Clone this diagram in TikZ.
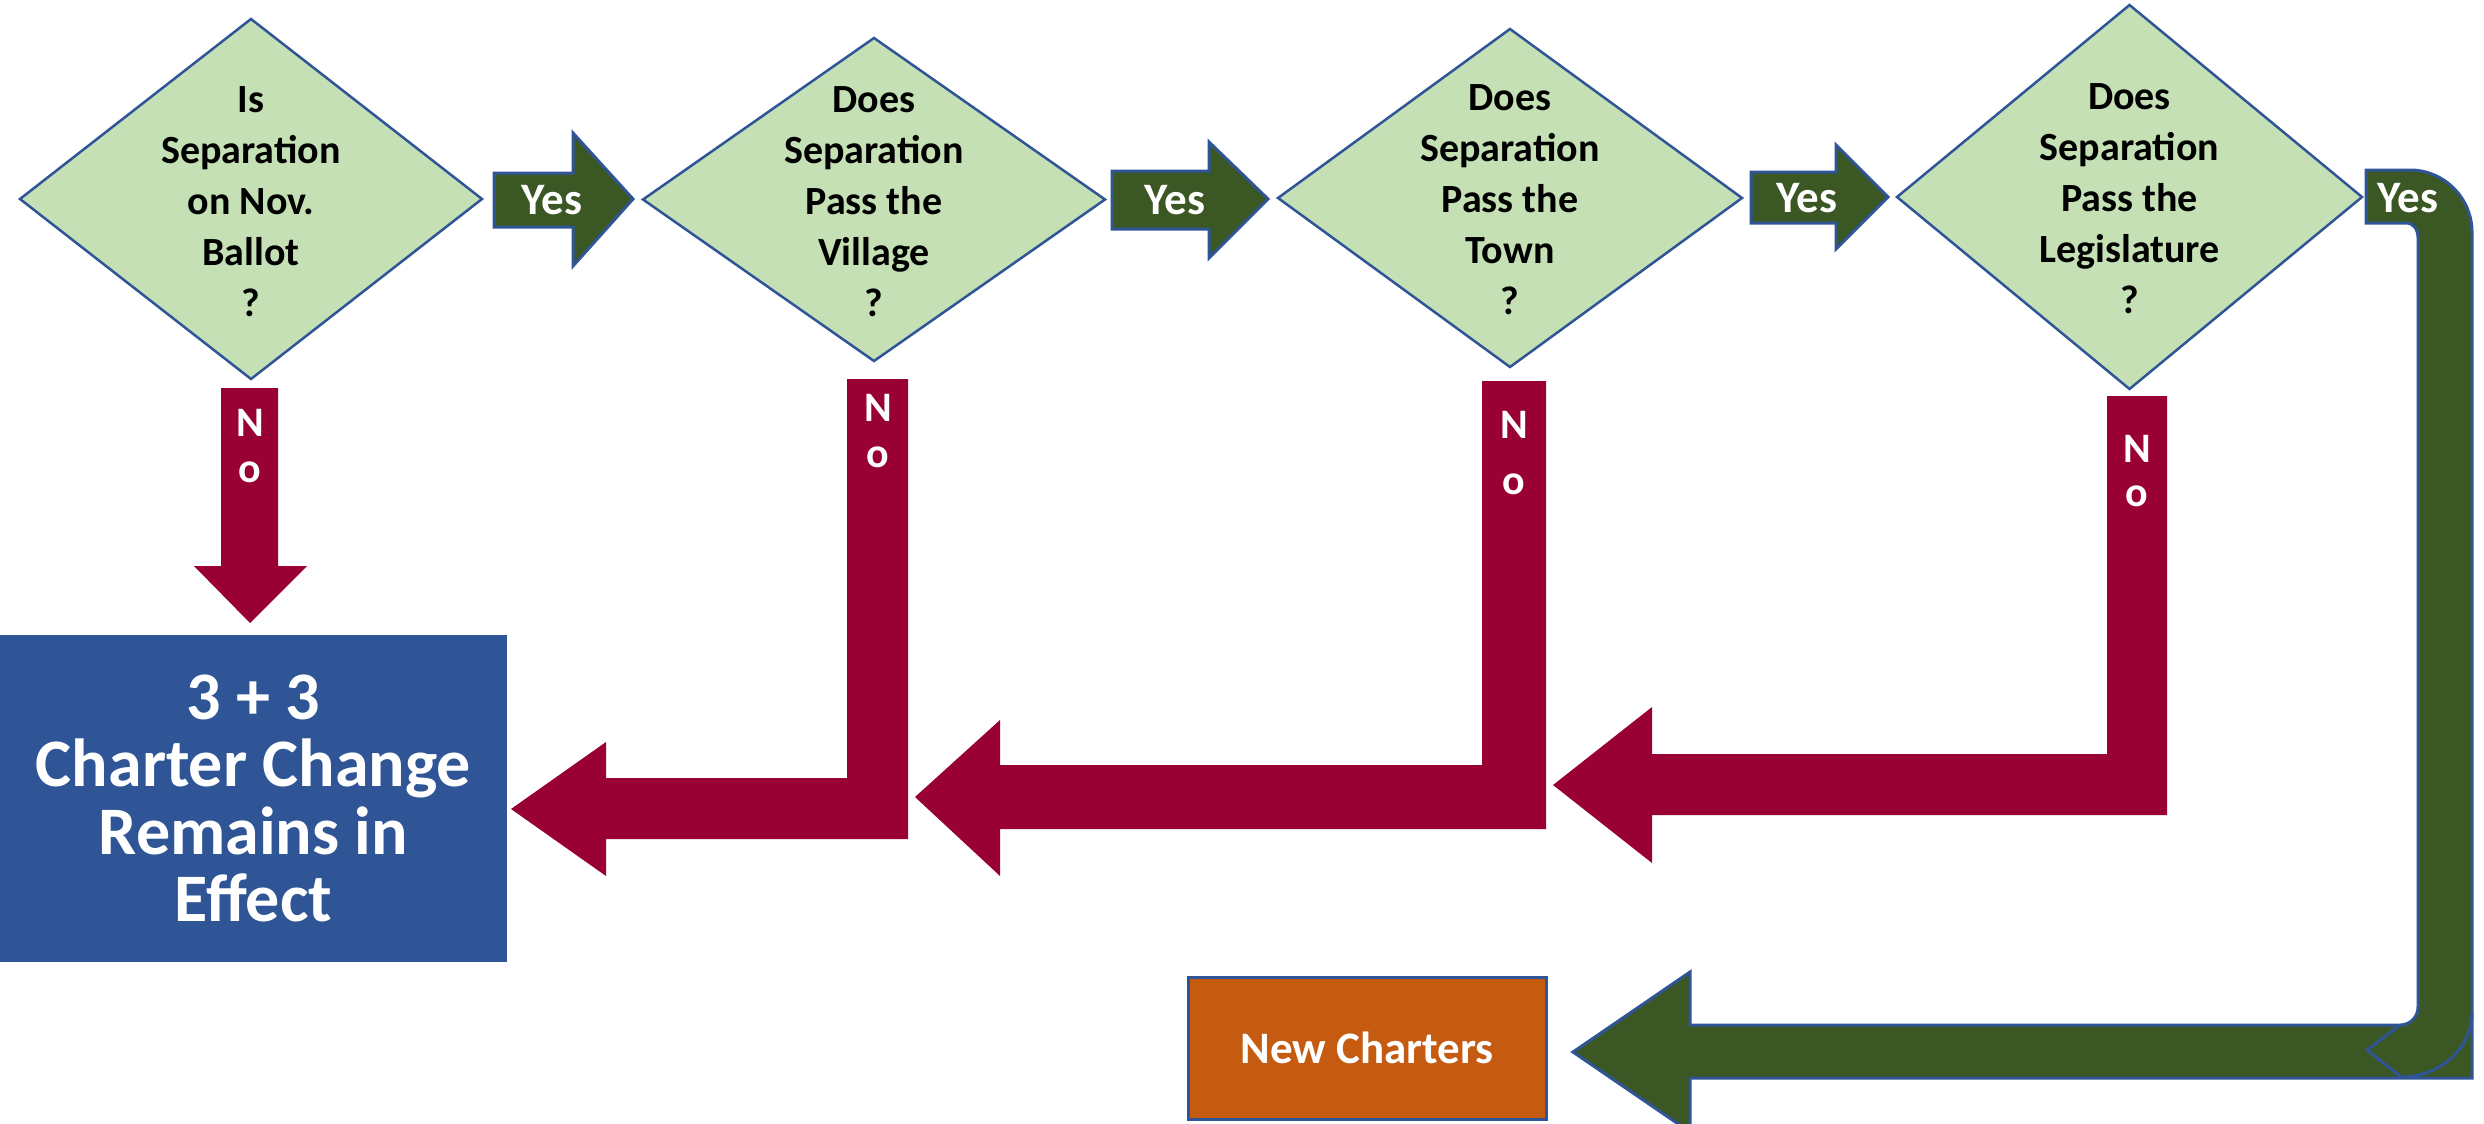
\documentclass[tikz,border=0pt]{standalone}
\usepackage{fontspec}
\setmainfont{Carlito}
\usetikzlibrary{shapes.geometric}
\definecolor{dgreen}{RGB}{59,87,35}
\definecolor{oblue}{RGB}{47,85,151}
\definecolor{lgreen}{RGB}{197,224,180}
\definecolor{dred}{RGB}{153,0,51}
\definecolor{bboxc}{RGB}{47,85,151}
\definecolor{orng}{RGB}{197,90,17}
\begin{document}
\begin{tikzpicture}[x=1pt,y=-1pt,
  dia/.style={diamond, draw=oblue, line width=2.5pt, fill=lgreen, inner sep=0pt, outer sep=0pt},
  dtext/.style={align=center, text=black, font=\bfseries\fontsize{40}{51}\selectfont, inner sep=0pt},
  yesarr/.style={fill=dgreen, draw=oblue, line width=3pt, line join=miter},
  noarr/.style={fill=dred},
  yeslbl/.style={text=white, font=\bfseries\fontsize{45}{50}\selectfont, inner sep=0pt},
  nolbl/.style={text=white, align=center, font=\bfseries\fontsize{42}{#1}\selectfont, inner sep=0pt},
  resbox/.style={rectangle, fill=bboxc, inner sep=0pt, outer sep=0pt, text=white, align=center,
    font=\bfseries\fontsize{68}{67.3}\selectfont},
  newbox/.style={rectangle, fill=orng, draw=oblue, line width=3pt, inner sep=0pt, text=white,
    font=\bfseries\fontsize{45}{50}\selectfont}
]
\useasboundingbox (0,0) rectangle (2484,1124);

% diamonds
\node[dia, minimum width=462, minimum height=360] (d1) at (251,199) {};
\node[dia, minimum width=462, minimum height=323] (d2) at (874,199.5) {};
\node[dia, minimum width=464, minimum height=338] (d3) at (1510,198) {};
\node[dia, minimum width=465, minimum height=384] (d4) at (2129.5,197) {};

\node[dtext] (t1) at (251,201.5) {Is\\Separation\\on Nov.\\Ballot\\?};
\node[dtext] (t2) at (874,201.5) {Does\\Separation\\Pass the\\Village\\?};
\node[dtext] (t3) at (1510,199.5) {Does\\Separation\\Pass the\\Town\\?};
\node[dtext] (t4) at (2129.5,199) {Does\\Separation\\Pass the\\Legislature\\?};

% yes arrows
\draw[yesarr] (494,173) -- (573,173) -- (573,133) -- (633,199) -- (573,266) -- (573,227) -- (494,227) -- cycle;
\draw[yesarr] (1112,171) -- (1209,171) -- (1209,142) -- (1268,199) -- (1209,258) -- (1209,229) -- (1112,229) -- cycle;
\draw[yesarr] (1751,172) -- (1836,172) -- (1836,145) -- (1888,197) -- (1836,249) -- (1836,223) -- (1751,223) -- cycle;
% bent yes arrow
\draw[yesarr] (2366,170) -- (2410,170) .. controls (2444,170) and (2472,198) .. (2472,232)
  -- (2472,1078) -- (1690,1078) -- (1690,1132) -- (1573,1052) -- (1690,972) -- (1690,1025)
  -- (2400,1025) .. controls (2410,1025) and (2418,1017) .. (2418,1007)
  -- (2418,238) .. controls (2418,230) and (2414,223) .. (2406,223) -- (2366,223) -- cycle;
\draw[oblue, line width=3pt, line join=miter] (2400,1025) -- (2367,1050) -- (2401,1077)
  .. controls (2440,1077) and (2472,1048) .. (2472,1013);

\node[yeslbl] (y1) at (552,200) {Yes};
\node[yeslbl] (y2) at (1175,200) {Yes};
\node[yeslbl] (y3) at (1807,198) {Yes};
\node[yeslbl] (y4) at (2408,198) {Yes};

% no arrows
\fill[noarr] (221,388) -- (278,388) -- (278,566) -- (307,566) -- (250,623) -- (194,566) -- (221,566) -- cycle;
\fill[noarr] (847,379) -- (908,379) -- (908,839) -- (606,839) -- (606,876) -- (511,809) -- (606,742) -- (606,778) -- (847,778) -- cycle;
\fill[noarr] (1482,381) -- (1546,381) -- (1546,829) -- (1000,829) -- (1000,876) -- (915,797) -- (1000,720) -- (1000,765) -- (1482,765) -- cycle;
\fill[noarr] (2107,396) -- (2167,396) -- (2167,815) -- (1652,815) -- (1652,863) -- (1553,785) -- (1652,707) -- (1652,754) -- (2107,754) -- cycle;

\node[nolbl=46.5] (n1) at (250,446) {N\\o};
\node[nolbl=46.5] (n2) at (878,431) {N\\o};
\node[nolbl=56.5] (n3) at (1514,453) {N\\o};
\node[nolbl=44.5] (n4) at (2137,471) {N\\o};

% result boxes
\node[resbox, minimum width=507, minimum height=327] (res) at (253.5,798.5) {3 + 3\\Charter Change\\Remains in\\Effect};
\node[newbox, minimum width=358, minimum height=142] (nc) at (1367,1048) {New Charters};
\end{tikzpicture}
\end{document}
